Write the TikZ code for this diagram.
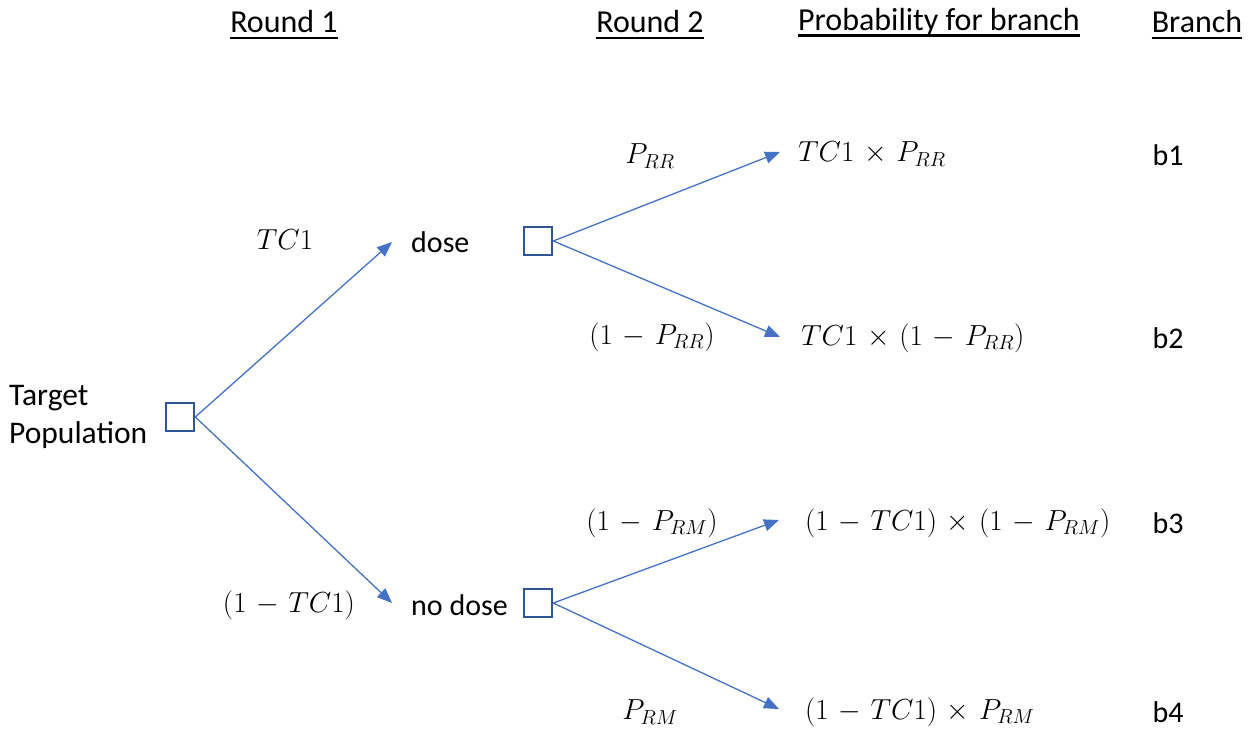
\RequirePackage{fix-cm}
\documentclass[tikz,border=0pt]{standalone}
\usepackage{fontspec}
\setmainfont{Carlito}
\usetikzlibrary{arrows.meta}
\medmuskip=6mu plus 2mu minus 2mu
\begin{document}
\begin{tikzpicture}[x=1pt,y=-1pt,
  every node/.style={font=\fontsize{30}{36}\selectfont},
  hdr/.style={inner sep=0pt,font=\fontsize{32}{38}\selectfont},
  dsq/.style={draw=sqblue,line width=2.6pt,minimum size=28pt,inner sep=0pt},
  arr/.style={draw=lnblue,line width=1.3pt,-{Triangle[length=15pt,width=12pt]}},
  lbl/.style={inner sep=0pt},
  mlbl/.style={inner sep=0pt,font=\fontsize{29}{36}\selectfont},
  res/.style={mlbl,anchor=west},
]
\definecolor{sqblue}{HTML}{2F5597}
\definecolor{lnblue}{HTML}{4472C4}
\useasboundingbox (0,0) rectangle (1260,733);
% headers
\node[hdr] (h1) at (284,22) {Round 1};
\node[hdr] (h2) at (650,22) {Round 2};
\node[hdr] (h3) at (939,22) {Probability for branch};
\node[hdr] (h4) at (1197,22) {Branch};
\foreach \h in {h1,h2,h3,h4}{
  \draw[line width=2.4pt] ([yshift=-5pt]\h.base west) -- ([yshift=-5pt]\h.base east);
}
% decision squares
\node[dsq] (root) at (180,417) {};
\node[dsq] (dsq) at (538,241) {};
\node[dsq] (nsq) at (538,603) {};
% texts
\node[lbl,anchor=west,align=left,font=\fontsize{31.5}{38}\selectfont] (tp) at (9,417) {Target\\Population};
\node[lbl,anchor=west] (dose) at (411,242) {dose};
\node[lbl,anchor=west] (nodose) at (411,605) {no dose};
% arrow end points
\coordinate (t1) at (392,242);
\coordinate (t2) at (392,603);
\coordinate (t3) at (780,152);
\coordinate (t4) at (780,337);
\coordinate (t5) at (779,520);
\coordinate (t6) at (779,709);
% connectors
\draw[arr] (root.east) -- (t1);
\draw[arr] (root.east) -- (t2);
\draw[arr] (dsq.east) -- (t3);
\draw[arr] (dsq.east) -- (t4);
\draw[arr] (nsq.east) -- (t5);
\draw[arr] (nsq.east) -- (t6);
% branch labels
\node[mlbl] (l1) at (285,240) {$TC1$};
\node[mlbl] (l2) at (289,605) {$(1-TC1)$};
\node[mlbl] (l3) at (650,156) {$P_{RR}$};
\node[mlbl] (l4) at (652,337) {$(1-P_{RR})$};
\node[mlbl] (l5) at (652,523) {$(1-P_{RM})$};
\node[mlbl] (l6) at (650,712) {$P_{RM}$};
% results
\node[res] (r1) at (798,154) {$TC1\times P_{RR}$};
\node[res] (r2) at (801,338) {$TC1\times(1-P_{RR})$};
\node[res] (r3) at (805,523) {$(1-TC1)\times(1-P_{RM})$};
\node[res] (r4) at (805,712) {$(1-TC1)\times P_{RM}$};
% branch ids
\node[lbl] (b1) at (1168,155) {b1};
\node[lbl] (b2) at (1168,338) {b2};
\node[lbl] (b3) at (1168,523) {b3};
\node[lbl] (b4) at (1168,712) {b4};
\end{tikzpicture}
\end{document}
